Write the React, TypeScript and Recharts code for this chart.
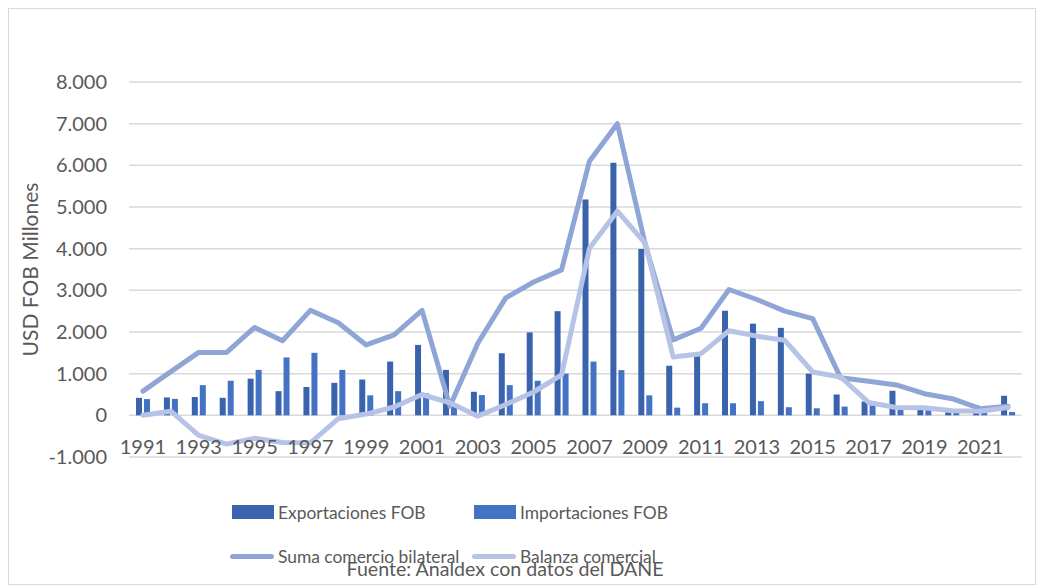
import React from 'react';
import { ComposedChart, Bar, Line, XAxis, YAxis, CartesianGrid } from 'recharts';

const years = [
  '1991', '1992', '1993', '1994', '1995', '1996', '1997', '1998', '1999', '2000',
  '2001', '2002', '2003', '2004', '2005', '2006', '2007', '2008', '2009', '2010',
  '2011', '2012', '2013', '2014', '2015', '2016', '2017', '2018', '2019', '2020',
  '2021', '2022',
];
const exportaciones = [
  420, 430, 440, 420, 880, 580, 680, 780, 860, 1290, 1690, 1090, 565, 1490, 1990, 2500,
  5180, 6060, 3990, 1190, 1420, 2510, 2200, 2100, 1000, 500, 330, 590, 130, 100, 240, 470,
];
const importaciones = [
  390, 395, 725, 830, 1090, 1390, 1500, 1090, 480, 580, 530, 250, 485, 725, 830, 1000,
  1290, 1085, 480, 185, 290, 290, 340, 195, 170, 210, 240, 130, 130, 90, 80, 80,
];
const suma = [
  580, 1050, 1510, 1510, 2110, 1790, 2520, 2220, 1690, 1930, 2520, 220, 1730, 2820, 3200, 3490,
  6100, 7000, 4100, 1810, 2090, 3020, 2780, 2500, 2320, 900, 820, 730, 520, 400, 160, 220,
];
const balanza = [
  0, 100, -480, -690, -550, -650, -660, -80, 30, 200, 500, 300, -20, 260, 560, 970,
  4010, 4900, 4130, 1400, 1480, 2030, 1900, 1800, 1040, 920, 310, 190, 180, 110, 100, 190,
];
const yTicks = [-1000, 0, 1000, 2000, 3000, 4000, 5000, 6000, 7000, 8000];

const data = years.map((y, i) => ({
  year: y,
  exp: exportaciones[i],
  imp: importaciones[i],
  suma: suma[i],
  balanza: balanza[i],
}));

const FONT = 'Lato, "Noto Sans", sans-serif';
const TEXT = '#595959';

const fmt = (v: number) => {
  const s = Math.abs(v).toString().replace(/\B(?=(\d{3})+(?!\d))/g, '.');
  return v < 0 ? '-' + s : s;
};

const XTick = (props: any) => {
  const { x, y, payload } = props;
  return (
    <text x={x} y={y - 3} textAnchor="middle" fill={TEXT} fontSize={20} fontFamily={FONT}>
      {payload.value}
    </text>
  );
};

const legendItems = [
  { label: 'Exportaciones FOB', color: '#3A63AD', kind: 'bar', x: 231, y: 511 },
  { label: 'Importaciones FOB', color: '#4472C4', kind: 'bar', x: 473, y: 511 },
  { label: 'Suma comercio bilateral', color: '#8FA5D6', kind: 'line', x: 229, y: 555 },
  { label: 'Balanza comercial', color: '#B7C3E6', kind: 'line', x: 471, y: 555 },
];

export default function App() {
  return (
    <div style={{ position: 'relative', width: 1028, height: 577, border: '1px solid #d9d9d9', boxSizing: 'border-box', overflow: 'hidden', fontFamily: FONT }}>
      <ComposedChart
        width={1028}
        height={577}
        data={data}
        margin={{ top: 73, right: 15, left: 20, bottom: 99 }}
        barGap={2}
      >
        <CartesianGrid vertical={false} stroke="#d9d9d9" strokeWidth={1.5} />
        <XAxis
          dataKey="year"
          interval={1}
          axisLine={false}
          tickLine={false}
          tickSize={0}
          tickMargin={0}
          height={30}
          tick={<XTick />}
        />
        <YAxis
          width={100}
          domain={[-1000, 8000]}
          ticks={yTicks}
          tickFormatter={fmt}
          axisLine={false}
          tickLine={false}
          tickSize={0}
          tickMargin={22}
          tick={{ fill: TEXT, fontSize: 20, fontFamily: FONT }}
          label={{
            value: 'USD FOB Millones',
            angle: -90,
            position: 'insideLeft',
            offset: 2,
            style: { fill: TEXT, fontSize: 21, fontFamily: FONT, textAnchor: 'middle' },
          }}
        />
        <Bar dataKey="exp" fill="#3A63AD" barSize={6} isAnimationActive={false} />
        <Bar dataKey="imp" fill="#4472C4" barSize={6} isAnimationActive={false} />
        <Line dataKey="suma" stroke="#8FA5D6" strokeWidth={5} dot={false} strokeLinejoin="round" strokeLinecap="round" isAnimationActive={false} />
        <Line dataKey="balanza" stroke="#B7C3E6" strokeWidth={5} dot={false} strokeLinejoin="round" strokeLinecap="round" isAnimationActive={false} />
      </ComposedChart>
      {legendItems.map((it) => (
        <div key={it.label} style={{ position: 'absolute', left: it.x - 8, top: it.y - 8 - 12, height: 24, display: 'flex', alignItems: 'center', color: TEXT, fontSize: 17.4, whiteSpace: 'nowrap' }}>
          {it.kind === 'bar' ? (
            <span style={{ display: 'inline-block', width: 42, height: 14, background: it.color, marginRight: 4 }} />
          ) : (
            <span style={{ display: 'inline-block', width: 44, height: 5, borderRadius: 3, background: it.color, marginRight: 4 }} />
          )}
          {it.label}
        </div>
      ))}
      <div style={{ position: 'absolute', left: 504 - 8, top: 568 - 8 - 13, transform: 'translateX(-50%)', color: TEXT, fontSize: 19.6, whiteSpace: 'nowrap', lineHeight: '26px' }}>
        Fuente: Analdex con datos del DANE
      </div>
    </div>
  );
}
